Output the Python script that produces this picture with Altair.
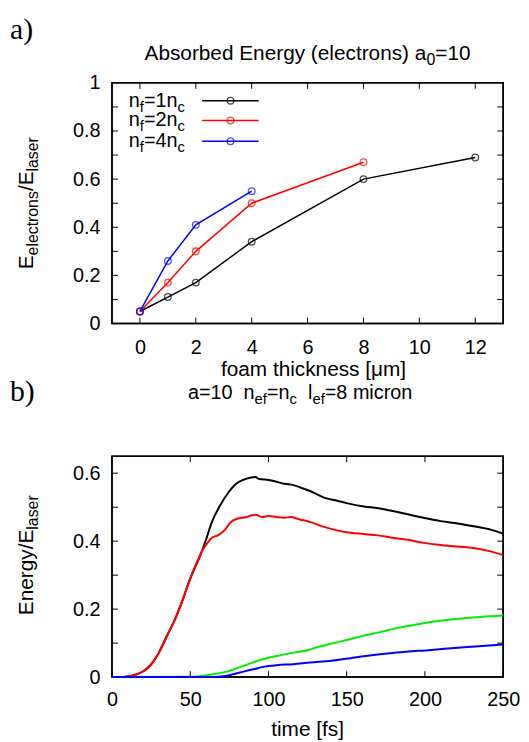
import altair as alt
import pandas as pd

# ---------------- panel a data ----------------
thick_1 = [0, 1, 2, 4, 8, 12]
abs_1 = [0.05, 0.11, 0.17, 0.34, 0.60, 0.69]
thick_2 = [0, 1, 2, 4, 8]
abs_2 = [0.05, 0.17, 0.30, 0.50, 0.67]
thick_4 = [0, 1, 2, 4]
abs_4 = [0.05, 0.26, 0.41, 0.55]
series_a = ["nf1", "nf2", "nf4"]
colors_a = ["#000000", "#ff0000", "#0000ff"]

x_ticks_a = [0, 2, 4, 6, 8, 10, 12]
y_labels_a = [0, 0.2, 0.4, 0.6, 0.8, 1]
y_ticks_a = [0.1, 0.2, 0.3, 0.4, 0.5, 0.6, 0.7, 0.8, 0.9]

# ---------------- panel b data ----------------
t_black = [0, 5, 10, 15, 20, 25, 30, 35, 40, 45, 50, 55, 57, 60, 64, 69, 74.5, 78, 81, 86, 91.5, 94,
           100, 105, 110, 116, 121, 127, 135.5, 144, 150, 161, 170, 178, 189, 199, 210, 221, 231, 242, 250]
e_black = [0, 0, 0.002, 0.007, 0.017, 0.037, 0.072, 0.12, 0.167, 0.225, 0.29, 0.343, 0.365, 0.403, 0.458,
           0.504, 0.544, 0.563, 0.574, 0.584, 0.589, 0.583, 0.58, 0.575, 0.569, 0.565, 0.557, 0.547,
           0.528, 0.519, 0.512, 0.502, 0.497, 0.49, 0.479, 0.469, 0.459, 0.452, 0.444, 0.434, 0.422]
t_red = [0, 5, 10, 15, 20, 25, 30, 35, 40, 45, 50, 55, 58, 60.6, 63.8, 68, 72.3, 75.5, 79.8, 86, 89.5,
         92.6, 95.8, 100, 105, 110, 114, 120, 127, 135.5, 142, 150, 161, 170, 178, 189, 199, 210, 221,
         231, 242, 250]
e_red = [0, 0, 0.002, 0.007, 0.017, 0.037, 0.072, 0.12, 0.167, 0.225, 0.29, 0.345, 0.375, 0.392, 0.41,
         0.418, 0.434, 0.454, 0.466, 0.471, 0.476, 0.477, 0.471, 0.474, 0.471, 0.469, 0.471, 0.464,
         0.456, 0.442, 0.434, 0.426, 0.421, 0.417, 0.411, 0.404, 0.395, 0.389, 0.384, 0.38, 0.37, 0.359]
t_green = [0, 50, 55, 62.8, 73.4, 84, 94.7, 105.3, 116, 126.6, 129, 140, 150, 161, 172, 182, 193, 204,
           214, 225, 235.5, 250]
e_green = [0, 0.001, 0.002, 0.007, 0.016, 0.033, 0.05, 0.062, 0.072, 0.081, 0.085, 0.098, 0.109, 0.122,
           0.133, 0.144, 0.153, 0.162, 0.168, 0.173, 0.177, 0.181]
t_blue = [0, 62.8, 68, 73.4, 78, 84, 90.4, 96.8, 105.3, 116, 126.6, 140, 161, 182, 204, 225, 250]
e_blue = [0, 0, 0.001, 0.004, 0.009, 0.016, 0.023, 0.03, 0.035, 0.038, 0.043, 0.048, 0.061, 0.072,
          0.08, 0.088, 0.096]
series_b = ["black", "red", "green", "blue"]
colors_b = ["#000000", "#ff0000", "#00ee00", "#0000ff"]

x_ticks_b = [0, 50, 100, 150, 200, 250]
y_labels_b = [0, 0.2, 0.4, 0.6]
y_ticks_b = [0.1, 0.2, 0.3, 0.4, 0.5, 0.6]

# ---------------- layout constants ----------------
FONT = "Liberation Sans"
SERIF = "Liberation Serif"
LABEL_SIZE = 20
W = 395
H_A = 243
H_B = 223
TICK = 6

ARIAL = {" ": 278, "(": 333, ")": 333, "/": 278, "=": 584, "[": 278, "]": 278, ".": 278,
         "A": 667, "E": 667, "a": 556, "b": 556, "c": 500, "d": 556, "e": 556, "f": 278, "g": 556,
         "h": 556, "i": 222, "k": 500, "l": 222, "m": 833, "n": 556, "o": 556, "r": 333, "s": 500,
         "t": 278, "y": 500, "μ": 576}


def tw(s, size):
    return sum(ARIAL.get(c, 556) for c in s) * size / 1000.0


ONE = pd.DataFrame({"k": [0]})


def rich(segments, x, y, size=21, sub=16, align="left", angle=0, shift=5):
    widths = [tw(t, sub if sb else size) for t, sb in segments]
    total = sum(widths)
    pos = {"left": 0.0, "center": -total / 2.0, "right": -total}[align]
    out = []
    for (t, sb), w in zip(segments, widths):
        s = sub if sb else size
        lead = len(t) - len(t.lstrip(" "))
        off = pos + tw(" " * lead, s)
        if angle == 0:
            px, py = x + off, y + (shift if sb else 0)
        else:
            px, py = x + (shift if sb else 0), y - off
        kw = dict(text=t.strip(" "), align="left", baseline="alphabetic", font=FONT,
                  fontSize=s, color="black")
        if angle:
            kw["angle"] = angle
        out.append(alt.Chart(ONE).mark_text(**kw).encode(x=alt.value(px), y=alt.value(py)))
        pos += w
    return out


def plain(text, x, y, size=21, font=FONT, align="left"):
    return alt.Chart(ONE).mark_text(text=text, align=align, baseline="alphabetic", font=font,
                                    fontSize=size, color="black").encode(
        x=alt.value(x), y=alt.value(y))


def frame(h):
    return alt.Chart(ONE).mark_rect(fillOpacity=0, stroke="black", strokeWidth=1.5).encode(
        x=alt.value(0), x2=alt.value(W), y=alt.value(0), y2=alt.value(h))


def tick_layers(xfield, yfield, xt, yt, h):
    xdf = pd.DataFrame({"tv": xt})
    ydf = pd.DataFrame({"tv": yt})
    layers = []
    for y0, y1 in [(h - TICK, h), (0, TICK)]:
        layers.append(alt.Chart(xdf).mark_rule(color="black", strokeWidth=1).encode(
            x=xfield, y=alt.value(y0), y2=alt.value(y1)))
    for x0, x1 in [(0, TICK), (W - TICK, W)]:
        layers.append(alt.Chart(ydf).mark_rule(color="black", strokeWidth=1).encode(
            y=yfield, x=alt.value(x0), x2=alt.value(x1)))
    return layers


def axis(values, pad, fmt=None):
    kw = dict(values=values, title=None, labelPadding=pad, labelFlush=False, ticks=False,
              domain=False, grid=False, labelFont=FONT, labelFontSize=LABEL_SIZE,
              labelColor="black")
    if fmt:
        kw["format"] = fmt
    return alt.Axis(**kw)


# ---------------- panel a ----------------
df_a = pd.concat([
    pd.DataFrame({"thickness": thick_1, "absorbed": abs_1, "series": series_a[0]}),
    pd.DataFrame({"thickness": thick_2, "absorbed": abs_2, "series": series_a[1]}),
    pd.DataFrame({"thickness": thick_4, "absorbed": abs_4, "series": series_a[2]}),
])
xs_a = alt.Scale(domain=[-1, 13], nice=False, zero=False)
ys_a = alt.Scale(domain=[0, 1], nice=False)
xax_a = axis(x_ticks_a, 14)
yax_a = axis(y_labels_a, 12, "~g")
col_a = alt.Color("series:N", scale=alt.Scale(domain=series_a, range=colors_a), legend=None)

enc_a = dict(
    x=alt.X("thickness:Q", scale=xs_a, axis=xax_a),
    y=alt.Y("absorbed:Q", scale=ys_a, axis=yax_a),
    color=col_a,
)
lines_a = alt.Chart(df_a).mark_line(strokeWidth=1.5).encode(**enc_a)
pts_a = alt.Chart(df_a).mark_point(shape="circle", filled=False, size=45, strokeWidth=1.3).encode(**enc_a)

layers_a = [frame(H_A), lines_a, pts_a] + tick_layers(
    alt.X("tv:Q", scale=xs_a, axis=xax_a), alt.Y("tv:Q", scale=ys_a, axis=yax_a),
    x_ticks_a, y_ticks_a, H_A)

# anchor for page top-left
layers_a.append(alt.Chart(ONE).mark_rule(strokeOpacity=0, strokeWidth=1).encode(
    x=alt.value(-103.5), x2=alt.value(-103.5), y=alt.value(-70.5), y2=alt.value(-69.5)))

layers_a.append(plain("a)", -103, -44, size=30, font=SERIF))
layers_a += rich([("Absorbed Energy (electrons) a", False), ("0", True), ("=10", False)],
                 197.5, -23, align="center")
layers_a += rich([("E", False), ("electrons", True), ("/E", False), ("laser", True)],
                 -80, 121.5, align="center", angle=270)
layers_a.append(plain("foam thickness [μm]", 203.5, 296, align="center"))

# legend
legend_rows = [18, 38, 59]
legend_nums = ["1", "2", "4"]
for ry, num, c in zip(legend_rows, legend_nums, colors_a):
    layers_a += rich([("n", False), ("f", True), ("=" + num + "n", False), ("c", True)],
                     17, ry + 6, size=20, sub=15)
    layers_a.append(alt.Chart(ONE).mark_rule(color=c, strokeWidth=1.5).encode(
        x=alt.value(91), x2=alt.value(148), y=alt.value(ry)))
    layers_a.append(alt.Chart(ONE).mark_point(shape="circle", filled=False, size=45,
                                              strokeWidth=1.3, color=c).encode(
        x=alt.value(119.7), y=alt.value(ry)))

top = alt.layer(*layers_a).properties(width=W, height=H_A)

# ---------------- panel b ----------------
df_b = pd.concat([
    pd.DataFrame({"time": t_black, "energy": e_black, "curve": series_b[0]}),
    pd.DataFrame({"time": t_red, "energy": e_red, "curve": series_b[1]}),
    pd.DataFrame({"time": t_green, "energy": e_green, "curve": series_b[2]}),
    pd.DataFrame({"time": t_blue, "energy": e_blue, "curve": series_b[3]}),
])
xs_b = alt.Scale(domain=[0, 250], nice=False, zero=False)
ys_b = alt.Scale(domain=[0, 0.65], nice=False)
xax_b = axis(x_ticks_b, 13)
yax_b = axis(y_labels_b, 12, "~g")
lines_b = alt.Chart(df_b).mark_line(strokeWidth=2, interpolate="monotone").encode(
    x=alt.X("time:Q", scale=xs_b, axis=xax_b),
    y=alt.Y("energy:Q", scale=ys_b, axis=yax_b),
    color=alt.Color("curve:N", scale=alt.Scale(domain=series_b, range=colors_b), legend=None),
    order=alt.Order("time:Q"),
)
layers_b = [frame(H_B), lines_b] + tick_layers(
    alt.X("tv:Q", scale=xs_b, axis=xax_b), alt.Y("tv:Q", scale=ys_b, axis=yax_b),
    x_ticks_b, y_ticks_b, H_B)
layers_b.append(plain("b)", -103, -56, size=30, font=SERIF))
layers_b += rich([("a=10", False), ("  n", False), ("ef", True), ("=n", False), ("c", True),
                  ("  l", False), ("ef", True), ("=8 micron", False)],
                 190, -58, size=20, sub=15, align="center")
layers_b += rich([("Energy/E", False), ("laser", True)], -80, 100, align="center", angle=270)
layers_b.append(plain("time [fs]", 197.5, 283, align="center"))

bottom = alt.layer(*layers_b).properties(width=W, height=H_B)

chart = alt.vconcat(top, bottom, spacing=134, bounds="flush", padding=0,
                    background="white").resolve_scale(
    color="independent"
).configure_view(stroke="black", strokeWidth=1.5)

chart.save("out.html", embed_options={"renderer": "svg", "actions": False})
